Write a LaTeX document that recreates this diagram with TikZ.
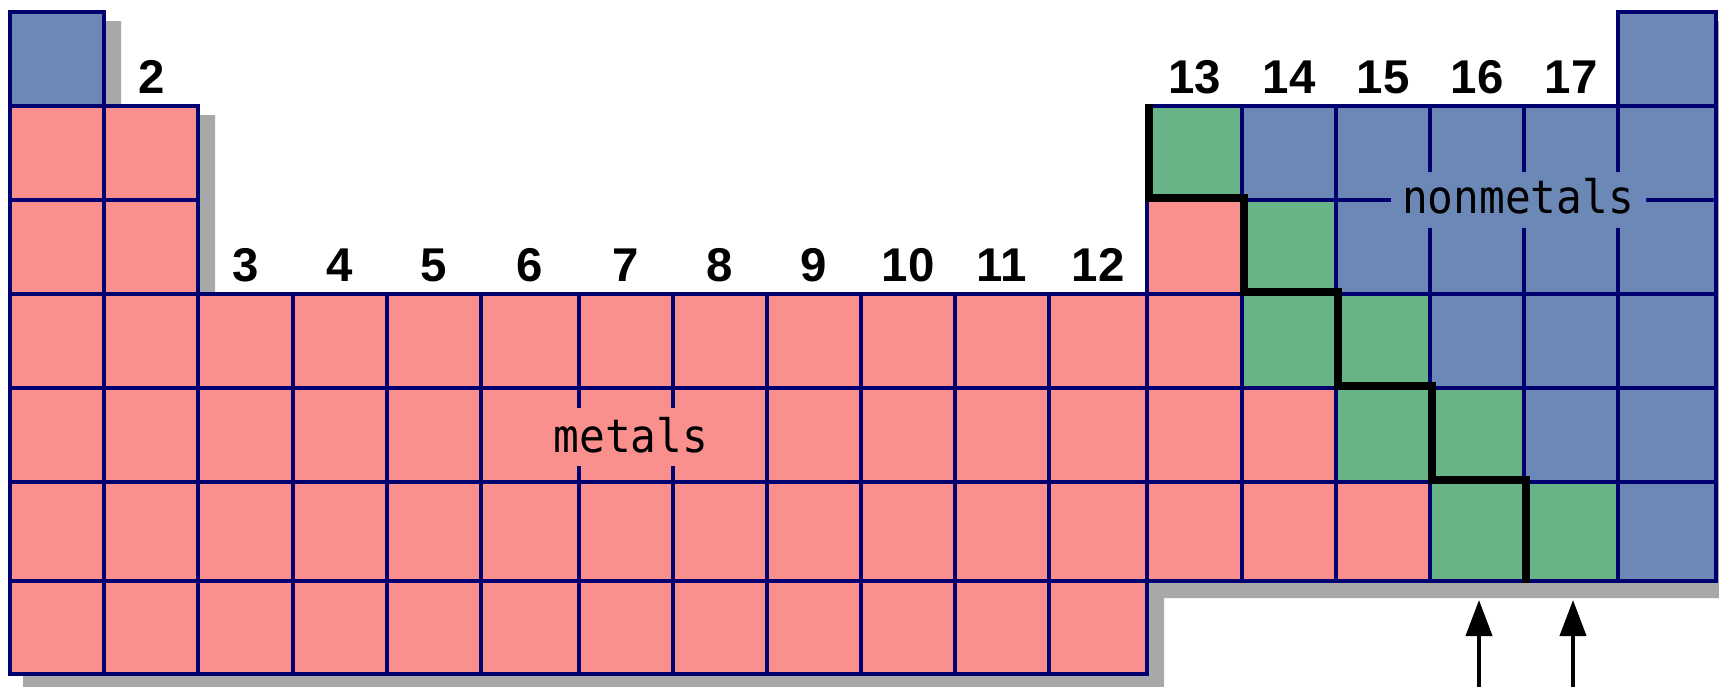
\documentclass[tikz,border=0pt]{standalone}
\usepackage{fontspec}
\usetikzlibrary{arrows.meta}

\newfontfamily\groupfont{Liberation Sans}
\newfontfamily\classfont[FakeStretch=0.93]{DejaVu Sans Mono}

\definecolor{metalpink}{RGB}{249,144,141}
\definecolor{nonmetalblue}{RGB}{107,136,183}
\definecolor{metalloidgreen}{RGB}{104,180,135}
\definecolor{gridnavy}{RGB}{0,0,112}
\definecolor{shadowgray}{RGB}{168,168,168}

% grid line positions (column and row boundaries)
\def\XS{{10,104,198,292.5,387,481,578.5,673,767,861,955,1049,1147,1242,1336,1430,1524,1618,1716}}
\def\YS{{12,106,200,294,388,482,581,674}}

\newcommand\cellcorners[2]{%
  \pgfmathsetmacro\xa{\XS[#1-1]}%
  \pgfmathsetmacro\xb{\XS[#1]}%
  \pgfmathsetmacro\ya{\YS[#2-1]}%
  \pgfmathsetmacro\yb{\YS[#2]}}

% column / row / class of the cells outside the main metal block
\def\celllist{1/1/B,18/1/B,
  1/2/P,2/2/P,13/2/G,14/2/B,15/2/B,16/2/B,17/2/B,18/2/B,
  1/3/P,2/3/P,13/3/P,14/3/G,15/3/B,16/3/B,17/3/B,18/3/B,
  13/4/P,14/4/G,15/4/G,16/4/B,17/4/B,18/4/B,
  13/5/P,14/5/P,15/5/G,16/5/G,17/5/B,18/5/B,
  13/6/P,14/6/P,15/6/P,16/6/G,17/6/G,18/6/B}

\begin{document}
\begin{tikzpicture}[x=0.5pt,y=-0.5pt,
  gridline/.style={draw=gridnavy,line width=2pt,line join=miter},
  cellP/.style={fill=metalpink},
  cellB/.style={fill=nonmetalblue},
  cellG/.style={fill=metalloidgreen},
  grouplabel/.style={font=\groupfont\bfseries\fontsize{23.7pt}{24pt}\selectfont,
    anchor=base,inner sep=0pt},
  classlabel/.style={font=\classfont\fontsize{23pt}{24pt}\selectfont,
    anchor=base,inner sep=0pt},
  staircase/.style={draw=black,line width=4pt,line join=miter},
  pointer/.style={draw=black,line width=2pt,-{Triangle[length=18pt,width=13pt]}}]

\useasboundingbox (0,0) rectangle (1719,686);
\clip (0,0) rectangle (1719,686);

% drop shadow of the table outline
\fill[shadowgray] (23,21) -- (121,21) -- (121,115) -- (215,115) -- (215,303)
  -- (1160,303) -- (1160,115) -- (1631,115) -- (1631,21) -- (1733,21)
  -- (1733,598) -- (1164,598) -- (1164,691) -- (23,691) -- cycle;

% cell fills
\foreach \r in {4,...,7}{
  \foreach \c in {1,...,12}{
    \cellcorners{\c}{\r}
    \fill[cellP] (\xa,\ya) rectangle (\xb,\yb);
  }}
\foreach \c/\r/\k in \celllist{
  \cellcorners{\c}{\r}
  \fill[cell\k] (\xa,\ya) rectangle (\xb,\yb);
}

% cell borders
\foreach \r in {4,...,7}{
  \foreach \c in {1,...,12}{
    \cellcorners{\c}{\r}
    \draw[gridline] (\xa,\ya) rectangle (\xb,\yb);
  }}
\foreach \c/\r/\k in \celllist{
  \cellcorners{\c}{\r}
  \draw[gridline] (\xa,\ya) rectangle (\xb,\yb);
}

% backgrounds behind the class names
\fill[metalpink] (542,408) rectangle (720,466);
\fill[nonmetalblue] (1391,172) rectangle (1646,228);

% metal / nonmetal boundary
\draw[staircase] (1149,104) -- (1149,198) -- (1244,198) -- (1244,292)
  -- (1338,292) -- (1338,386) -- (1432,386) -- (1432,480)
  -- (1526,480) -- (1526,583);

% group numbers, centred over their columns
\node[grouplabel] (group2) at (152,93) {2};
\foreach \c in {13,...,17}{
  \cellcorners{\c}{1}
  \node[grouplabel] (group\c) at ({(\xa+\xb)/2},93) {\c};
}
\foreach \c in {3,...,12}{
  \cellcorners{\c}{1}
  \node[grouplabel] (group\c) at ({(\xa+\xb)/2},281) {\c};
}

% class names
\node[classlabel] (metals) at (631,452) {metals};
\node[classlabel] (nonmetals) at (1518,213) {nonmetals};

% pointers under groups 16 and 17
\coordinate (tail16) at (1479,690);
\coordinate (head16) at (1479,600);
\coordinate (tail17) at (1573,690);
\coordinate (head17) at (1573,600);
\draw[pointer] (tail16) -- (head16);
\draw[pointer] (tail17) -- (head17);
\end{tikzpicture}
\end{document}
